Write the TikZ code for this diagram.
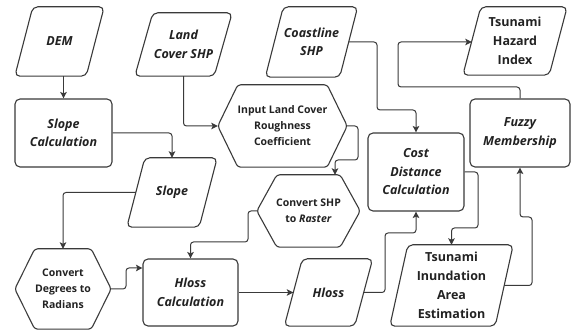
\documentclass[tikz,border=0pt]{standalone}
\usepackage{fontspec}
\setmainfont{Open Sans}
\usetikzlibrary{arrows.meta}
\definecolor{bordc}{HTML}{3A3A3A}
\definecolor{txtc}{HTML}{222222}
\begin{document}
\begin{tikzpicture}[x=1pt,y=-1pt,
  lbl/.style={align=center,text=txtc,inner sep=0pt},
  itl/.style={lbl,font=\bfseries\itshape\fontsize{12.5}{18.5}\selectfont},
  upl/.style={lbl,font=\bfseries\fontsize{12.5}{19}\selectfont},
  hxl/.style={lbl,font=\bfseries\fontsize{10.5}{16}\selectfont},
  rbox/.style={itl,draw=bordc,line width=1.1pt,rounded corners=5pt},
  outline/.style={draw=bordc,line width=1.1pt,rounded corners=5pt},
  hexline/.style={draw=bordc,line width=1.1pt,rounded corners=3pt},
  conn/.style={draw=bordc,line width=1pt,rounded corners=3pt,-{Stealth[length=6.5pt,width=6.5pt,inset=1.5pt]}}
]
\useasboundingbox (0,0) rectangle (571,331);
\fill[white] (0,0) rectangle (571,331);

% parallelogram labels (outline drawn below)
\node[itl,minimum width=71,minimum height=69] (dem) at (59.5,41.5) {DEM};
\node[itl,minimum width=79,minimum height=63] (land) at (183.5,44.5) {Land\\Cover SHP};
\node[itl,minimum width=74,minimum height=70] (coast) at (311.5,42) {Coastline\\SHP};
\node[upl,minimum width=86,minimum height=68] (hazard) at (515,41) {Tsunami\\Hazard\\Index};
\node[itl,minimum width=72,minimum height=69] (slope) at (172,192.5) {Slope};
\node[itl,minimum width=70,minimum height=67] (hloss) at (328.5,292.5) {Hloss};
\node[upl,minimum width=105,minimum height=81] (inund) at (451.5,285.5) {Tsunami\\Inundation\\Area\\Estimation};

% rectangles
\node[rbox,minimum width=97,minimum height=68] (slopecalc) at (63.5,133) {Slope\\Calculation};
\node[rbox,minimum width=100,minimum height=68] (fuzzy) at (520,133) {Fuzzy\\Membership};
\node[rbox,minimum width=96,minimum height=78] (cost) at (416,172) {Cost\\Distance\\Calculation};
\node[rbox,minimum width=95,minimum height=67] (hcalc) at (190.5,292.5) {Hloss\\Calculation};

% hexagon labels
\node[hxl,minimum width=129,minimum height=82] (inp) at (282.5,126) {Input Land Cover\\Roughness\\Coefficient};
\node[hxl,minimum width=103,minimum height=72] (shp) at (308.5,211) {Convert SHP\\to \textit{Raster}};
\node[hxl,minimum width=96,minimum height=80] (deg) at (63,289) {Convert\\Degrees to\\Radians};

% outlines
\foreach \n in {dem,land,coast,hazard,slope,hloss,inund}
  \draw[outline] ([xshift=9pt]\n.north west) -- ([xshift=9pt]\n.north east)
    -- ([xshift=-9pt]\n.south east) -- ([xshift=-9pt]\n.south west) -- cycle;
\foreach \n in {inp,shp,deg}
  \draw[hexline] (\n.west) -- ([xshift=20pt]\n.north west) -- ([xshift=-20pt]\n.north east)
    -- (\n.east) -- ([xshift=-20pt]\n.south east) -- ([xshift=20pt]\n.south west) -- cycle;

% connectors
\draw[conn] (slopecalc.north |- dem.south) -- (slopecalc.north);
\draw[conn] (land.south) |- (inp.west);
\draw[conn] (slopecalc.east) -| (slope.north);
\draw[conn] (coast.east) -- (377,42) -- (377,110) -| (cost.north);
\draw[conn] (inp.east) -- (358,126) -- (358,160) -- (335,160) -- (shp.north -| 335,160);
\draw[conn] (slope.west) -| (deg.north);
\draw[conn] (shp.west) -- (248,211) -- (248,242) -| (hcalc.north);
\draw[conn] (deg.east) -- (126,289) -- (126,268) -- (hcalc.west |- 0,268);
\draw[conn] (hcalc.east) -- (hloss.west);
\draw[conn] (hloss.east) -- (385,292.5) -- (385,233) -| (cost.south);
\draw[conn] (cost.east) -- (478,172) -- (478,228) -| (inund.north);
\draw[conn] (inund.east) -- (532,285.5) -- (532,217) -| (fuzzy.south);
\draw[conn] (fuzzy.north) -- (520,87) -- (398,87) -- (398,42) -- (hazard.west |- 0,42);
\end{tikzpicture}
\end{document}
